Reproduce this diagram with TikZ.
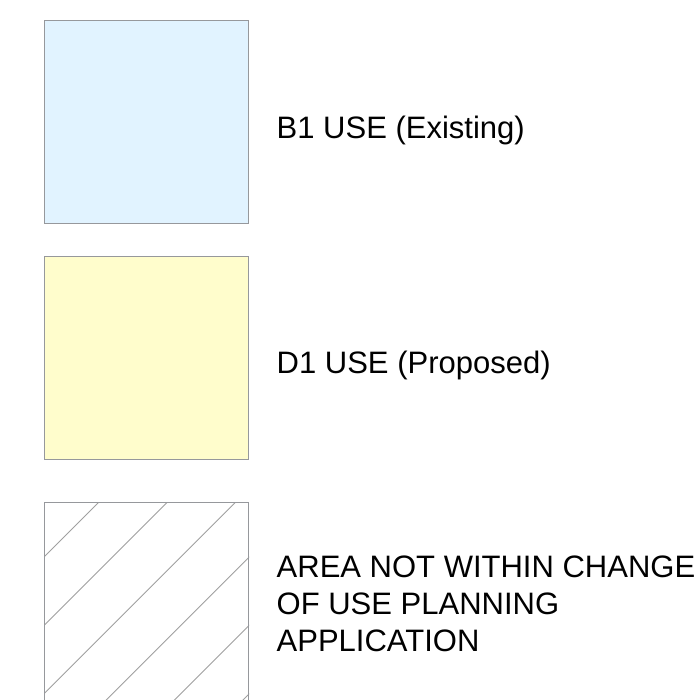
\documentclass[tikz,border=0pt]{standalone}
\usepackage{fontspec}
\setmainfont{Liberation Sans}
\definecolor{bluefill}{RGB}{225,243,255}
\definecolor{yellowfill}{RGB}{255,253,204}
\definecolor{edgegray}{RGB}{150,152,156}
\definecolor{hatchgray}{RGB}{160,160,160}
\begin{document}
\begin{tikzpicture}[x=1pt,y=-1pt,
  keybox/.style={draw=edgegray, line width=1pt, rectangle, inner sep=0pt, minimum width=204pt, minimum height=203pt},
  label/.style={anchor=base west, inner sep=0pt, font=\fontsize{31}{37}\selectfont, align=left, text=black},
  hatchline/.style={draw=hatchgray, line width=0.9pt}]
\useasboundingbox (0,0) rectangle (699,700);
\clip (0,0) rectangle (699,700);
\node[keybox, fill=bluefill] (b1) at (146.5,121.8) {};
\node[keybox, fill=yellowfill] (b2) at (146.5,357.8) {};
\node[keybox, fill=white, minimum height=230pt] (b3) at (146.5,617.5) {};
\begin{scope}
\clip (b3.north west) rectangle (b3.south east);
\foreach \c in {601,669.4,737.8,806.2,874.6,943,1011.4}{
  \draw[hatchline] (\c-730,730) -- (\c-480,480);
}
\end{scope}
\node[keybox, fill=none, minimum height=230pt] at (b3.center) {};
\node[label] (t1) at (276.5,138.3) {B1 USE (Existing)};
\node[label] (t2) at (276.5,373.3) {D1 USE (Proposed)};
\node[label] (t3) at (276.5,651.3) {AREA NOT WITHIN CHANGE\\OF USE PLANNING\\APPLICATION};
\end{tikzpicture}
\end{document}
